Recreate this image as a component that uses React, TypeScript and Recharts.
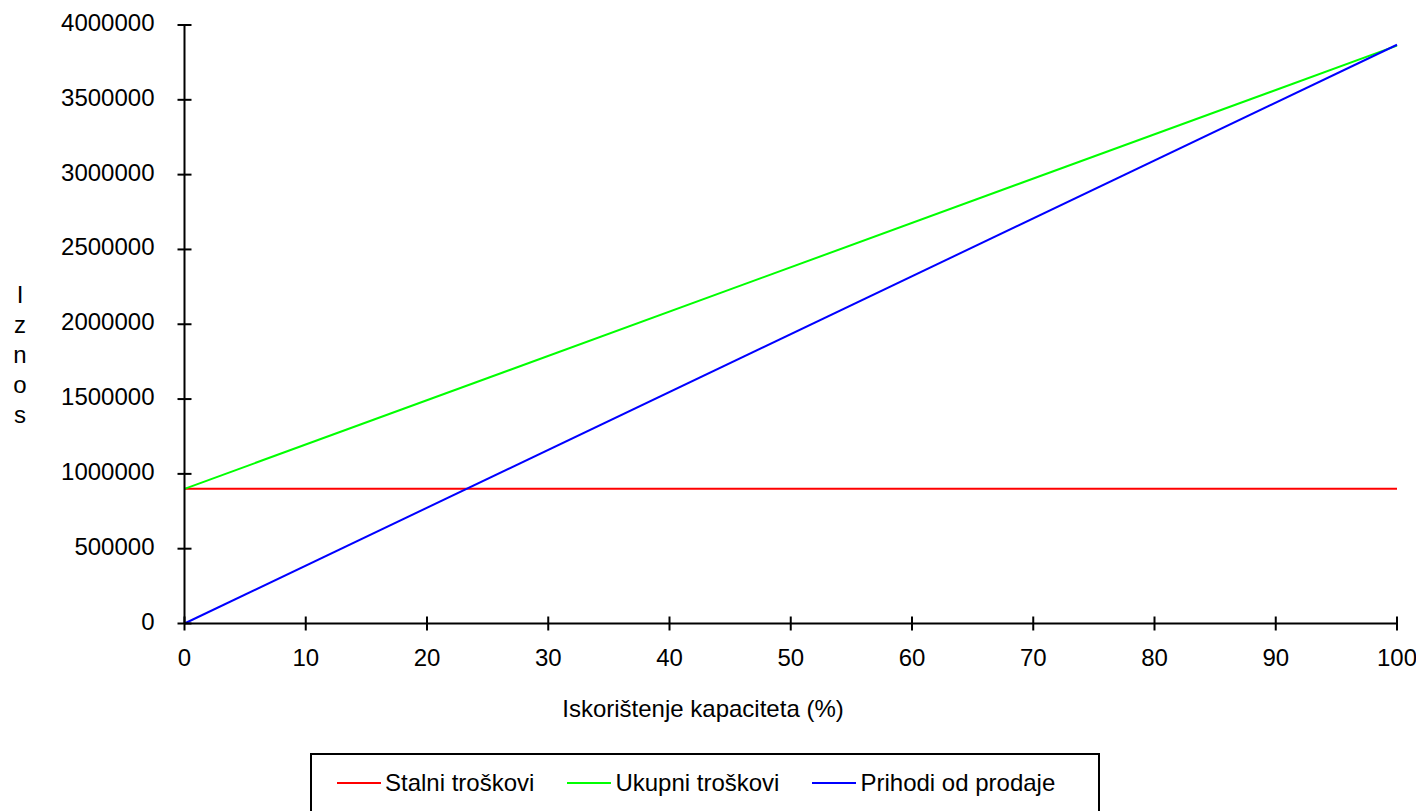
import React from "react";
import { LineChart, Line, XAxis, YAxis } from "recharts";

const capacity = [0, 100];
const fixedCosts = [900000, 900000];
const totalCosts = [900000, 3862000];
const revenue = [0, 3868000];

const xTicks = [0, 10, 20, 30, 40, 50, 60, 70, 80, 90, 100];
const yTicks = [0, 500000, 1000000, 1500000, 2000000, 2500000, 3000000, 3500000, 4000000];

const series = [
	{ key: "stalni", name: "Stalni troškovi", color: "#ff0000" },
	{ key: "ukupni", name: "Ukupni troškovi", color: "#00ff00" },
	{ key: "prihodi", name: "Prihodi od prodaje", color: "#0000ff" },
];

const data = capacity.map((x, i) => ({
	x,
	stalni: fixedCosts[i],
	ukupni: totalCosts[i],
	prihodi: revenue[i],
}));

const font = "'Liberation Sans', Arial, sans-serif";

const YTick = (props: any) => {
	const { x, y, payload } = props;
	return (
		<g>
			<line x1={x - 7} x2={x + 7} y1={y} y2={y} stroke="#000" strokeWidth={2} />
			<text x={x - 30} y={y + 6} textAnchor="end" fontSize={24} fontFamily={font} fill="#000">
				{payload.value}
			</text>
		</g>
	);
};

const XTick = (props: any) => {
	const { x, y, payload } = props;
	return (
		<g>
			<line x1={x} x2={x} y1={y - 7} y2={y + 7} stroke="#000" strokeWidth={2} />
			<text x={x} y={y + 42} textAnchor="middle" fontSize={24} fontFamily={font} fill="#000">
				{payload.value}
			</text>
		</g>
	);
};

const yTitle = ["I", "z", "n", "o", "s"];

export default function App() {
	return (
		<div
			style={{
				position: "fixed",
				left: 0,
				top: 0,
				width: 1416,
				height: 811,
				overflow: "hidden",
				background: "#fff",
				fontFamily: font,
			}}
		>
			<LineChart
				width={1416}
				height={811}
				data={data}
				margin={{ top: 25, right: 19, bottom: 127.5, left: 84.5 }}
			>
				<XAxis
					dataKey="x"
					type="number"
					domain={[0, 100]}
					ticks={xTicks}
					height={60}
					tickSize={0}
					tickMargin={0}
					tickLine={false}
					tick={<XTick />}
					axisLine={{ stroke: "#000", strokeWidth: 2 }}
					label={{
						content: () => (
							<text x={703} y={717} textAnchor="middle" fontSize={24} fontFamily={font} fill="#000">
								Iskorištenje kapaciteta (%)
							</text>
						),
					}}
				/>
				<YAxis
					type="number"
					domain={[0, 4000000]}
					ticks={yTicks}
					width={100}
					tickSize={0}
					tickMargin={0}
					tickLine={false}
					tick={<YTick />}
					axisLine={{ stroke: "#000", strokeWidth: 2 }}
					label={{
						content: () => (
							<text x={20} y={303} textAnchor="middle" fontSize={24} fontFamily={font} fill="#000">
								{yTitle.map((ch, i) => (
									<tspan key={i} x={20} dy={i === 0 ? 0 : 30}>
										{ch}
									</tspan>
								))}
							</text>
						),
					}}
				/>
				{series.map((s) => (
					<Line
						key={s.key}
						type="linear"
						dataKey={s.key}
						name={s.name}
						stroke={s.color}
						strokeWidth={2}
						dot={false}
						activeDot={false}
						isAnimationActive={false}
					/>
				))}
			</LineChart>
			<div
				style={{
					position: "absolute",
					left: 310,
					top: 753,
					width: 790,
					height: 100,
					border: "2px solid #000",
					boxSizing: "border-box",
				}}
			>
				<div
					style={{
						position: "absolute",
						left: 25,
						top: 16,
						display: "flex",
						alignItems: "center",
						height: 24,
						fontSize: 24,
						lineHeight: "24px",
						whiteSpace: "nowrap",
					}}
				>
					{series.map((s) => (
						<div key={s.key} style={{ display: "flex", alignItems: "center", marginRight: 33 }}>
							<div style={{ width: 44, height: 2, background: s.color, marginRight: 4 }} />
							<span>{s.name}</span>
						</div>
					))}
				</div>
			</div>
		</div>
	);
}
